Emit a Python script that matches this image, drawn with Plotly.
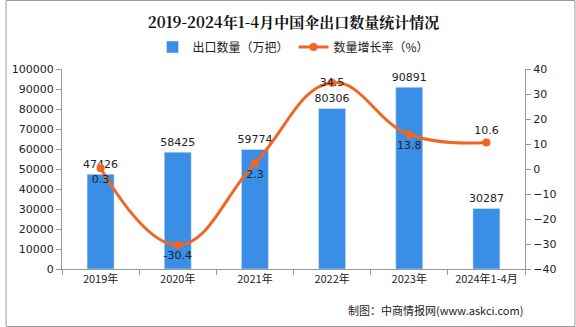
import plotly.graph_objects as go

categories = ["2019年", "2020年", "2021年", "2022年", "2023年", "2024年1-4月"]
export_qty = [47426, 58425, 59774, 80306, 90891, 30287]
growth = [0.3, -30.4, 2.3, 34.5, 13.8, 10.6]
growth_pos = ["bottom center", "bottom center", "bottom center", "middle center", "bottom center", "top center"]

W, H = 576, 327
L, R, T, B = 57, 51, 69, 58
pw, ph = W - L - R, H - T - B

fig = go.Figure()
fig.add_trace(go.Bar(
    x=categories, y=export_qty, name="出口数量（万把）",
    marker=dict(color="#3a8ee6"), width=0.35,
    text=[str(v) for v in export_qty], textposition="outside", constraintext="none",
    textfont=dict(family="DejaVu Sans", size=11, color="#222"),
    cliponaxis=False,
))
fig.add_trace(go.Scatter(
    x=categories, y=growth, name="数量增长率（%）", yaxis="y2",
    mode="lines+markers+text", line=dict(color="#f26522", width=3, shape="spline", smoothing=1.2),
    marker=dict(color="#f26522", size=8),
    text=[f"{v}" for v in growth], textposition=growth_pos,
    textfont=dict(family="DejaVu Sans", size=11, color="#222"),
    cliponaxis=False,
))

axis_font = dict(family="DejaVu Sans", size=11, color="#222")
fig.update_layout(
    width=W, height=H, margin=dict(l=L, r=R, t=T, b=B),
    paper_bgcolor="white", plot_bgcolor="white",
    title=dict(text="<b>2019-2024年1-4月中国伞出口数量统计情况</b>", x=0.5, xref="paper", y=1 - 23 / H, yanchor="middle",
               font=dict(family="Noto Serif CJK SC, Noto Sans CJK SC", size=15, color="#111")),
    legend=dict(orientation="h", x=0.5, xanchor="center", y=1 + 22 / ph, yanchor="middle",
                font=dict(family="Noto Sans CJK SC", size=12, color="#222"), bgcolor="rgba(0,0,0,0)"),
    xaxis=dict(showline=True, linecolor="#999", ticks="outside", tickson="boundaries", ticklen=5, tickcolor="#999",
               tickfont=dict(family="Noto Sans CJK SC", size=11, color="#222"), showgrid=False),
    yaxis=dict(range=[0, 100000], dtick=10000, tickformat="d", showline=True, linecolor="#999", ticks="outside",
               ticklen=5, tickcolor="#999", tickfont=axis_font, showgrid=False, zeroline=False),
    yaxis2=dict(range=[-40, 40], dtick=10, overlaying="y", side="right", showline=True, linecolor="#999",
                ticks="outside", ticklen=5, tickcolor="#999", tickfont=axis_font, showgrid=False, zeroline=False),
    annotations=[dict(text="制图：中商情报网(www.askci.com)", xref="paper", yref="paper", x=1.0,
                      y=-(310 - (T + ph)) / ph,
                      showarrow=False, xanchor="right", yanchor="middle",
                      font=dict(family="Noto Sans CJK SC", size=11, color="#222"))],
    shapes=[dict(type="rect", xref="paper", yref="paper", x0=-(L - 0.5) / pw, x1=1 + (R - 0.5) / pw,
                 y0=-(B - 0.5) / ph, y1=1 + (T - 0.5) / ph, line=dict(color="#999", width=1))],
)
fig.write_html("out.html")
